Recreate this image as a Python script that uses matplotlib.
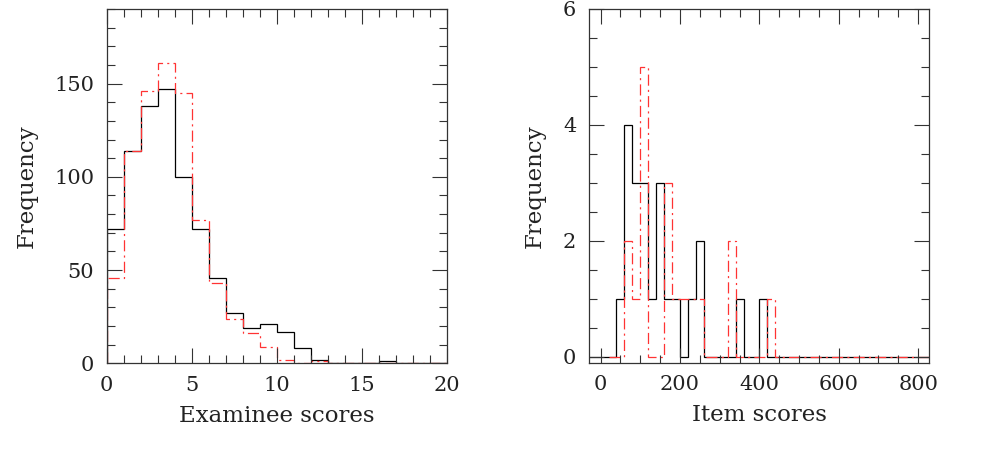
import numpy as np
import matplotlib
matplotlib.use("Agg")
import matplotlib.pyplot as plt
from matplotlib.ticker import MultipleLocator

# Examinee score histograms (bin width 1, from 0 to 20)
exam_edges = np.arange(0, 21, 1)
exam_black = [72, 114, 138, 147, 100, 72, 46, 27, 19, 21,
              17, 8, 2, 0, 0, 0, 1, 0, 0, 0]
exam_red = [46, 114, 146, 161, 145, 77, 43, 24, 16, 9,
            2, 0, 1, 0, 0, 0, 0, 0, 0, 0]

# Item score histograms (bin width 20)
item_black_edges = np.arange(-40, 861, 20)
item_black = [0, 0, 0, 0, 1, 4, 3, 3, 1, 3, 1, 1, 0, 1, 2, 0, 0, 0, 0,
              1, 0, 0, 1] + [0] * 22
item_red_edges = np.arange(20, 861, 20)
item_red = [0, 0, 2, 1, 5, 0, 0, 3, 1, 1, 1, 1, 0, 0, 0, 2, 0, 0, 0, 0,
            1] + [0] * 21

plt.rcParams['font.family'] = ['DejaVu Serif']
plt.rcParams['lines.scale_dashes'] = False

fig = plt.figure(figsize=(9.81, 4.68), dpi=100)
ax1 = fig.add_axes([0.1088, 0.2237, 0.3466, 0.757])
ax2 = fig.add_axes([0.6001, 0.2250, 0.3472, 0.7558])

red_style = dict(color='#ff3333', lw=0.9, linestyle=(0, (8, 3, 1.5, 3)))
black_style = dict(color='black', lw=0.9)


def style_axes(ax, xmaj, xmin, ymaj, ymin):
    ax.xaxis.set_major_locator(MultipleLocator(xmaj))
    ax.xaxis.set_minor_locator(MultipleLocator(xmin))
    ax.yaxis.set_major_locator(MultipleLocator(ymaj))
    ax.yaxis.set_minor_locator(MultipleLocator(ymin))
    ax.tick_params(which='both', direction='in', top=True, right=True,
                   width=0.8, colors='#333333', labelcolor='#222222',
                   labelsize=15, pad=9)
    ax.tick_params(which='major', length=10.5)
    ax.tick_params(which='minor', length=5.5)
    for s in ax.spines.values():
        s.set_linewidth(0.9)
        s.set_color('#333333')


# --- left: examinee scores ---
ax1.stairs(exam_black, exam_edges, baseline=0, **black_style)
ax1.stairs(exam_red, exam_edges, baseline=0, **red_style)
ax1.set_xlim(0, 20)
ax1.set_ylim(0, 190)
style_axes(ax1, 5, 1, 50, 10)
ax1.set_xlabel('Examinee scores', fontsize=16.5, color='#222222', labelpad=7)
ax1.set_ylabel('Frequency', fontsize=16.5, color='#222222', labelpad=12)

# --- right: item scores ---
ax2.stairs(item_black, item_black_edges, baseline=0, **black_style)
ax2.stairs(item_red, item_red_edges, baseline=0, **red_style)
ax2.set_xlim(-30, 828)
ax2.set_ylim(-0.1, 6)
style_axes(ax2, 200, 50, 2, 0.5)
ax2.set_xlabel('Item scores', fontsize=16.5, color='#222222', labelpad=7)
ax2.set_ylabel('Frequency', fontsize=16.5, color='#222222', labelpad=12)

fig.savefig('out.png', dpi=100)
